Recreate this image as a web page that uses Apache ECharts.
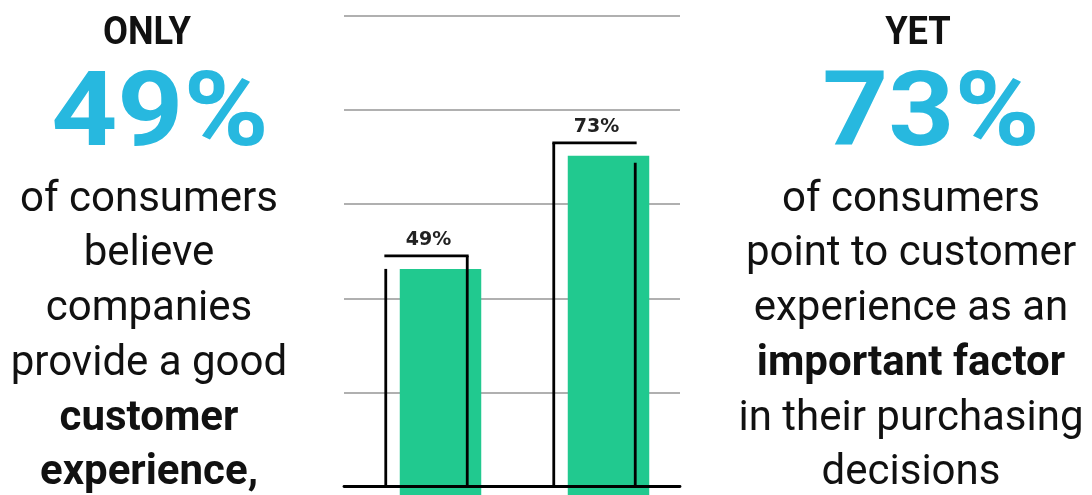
<!DOCTYPE html>
<html>
<head>
<meta charset="utf-8">
<script src="https://cdn.jsdelivr.net/npm/echarts@6/dist/echarts.min.js"></script>
<style>
  html, body { margin: 0; padding: 0; background: #ffffff; }
  #chart { width: 1092px; height: 495px; }
</style>
</head>
<body>
<div id="chart"></div>
<script>
// ---- data ----
const categories = ['Believe companies provide good CX', 'CX is an important purchasing factor'];
const values = [49, 73];
const valueLabels = ['49%', '73%'];
const yTicks = [0, 20, 40, 60, 80, 100];

const leftHead = 'ONLY';
const leftBig = '49%';
const leftLines = ['of consumers', 'believe', 'companies', 'provide a good', 'customer', 'experience,'];
const leftBold = [false, false, false, false, true, true];

const rightHead = 'YET';
const rightBig = '73%';
const rightLines = ['of consumers', 'point to customer', 'experience as an', 'important factor', 'in their purchasing', 'decisions'];
const rightBold = [false, false, false, true, false, false];

// ---- style ----
const GREEN = '#21c98f';
const BLUE = '#27b8df';
const INK = '#111111';
const GRID = '#b0b0b0';

const chart = echarts.init(document.getElementById('chart'), null, { renderer: 'canvas' });

function columnText(headX, bigX, cx, head, big, lines, bold) {
  const els = [];
  els.push({ type: 'text', x: headX, y: 34, scaleX: 0.93,
    style: { text: head, fill: INK, font: 'bold 39px Roboto', align: 'center', verticalAlign: 'middle' } });
  els.push({ type: 'text', x: bigX, y: 119, scaleX: 1.12,
    style: { text: big, fill: BLUE, font: 'bold 103px Roboto', align: 'center', verticalAlign: 'middle' } });
  const ys = [200, 254, 309, 364, 419, 473];
  lines.forEach((t, i) => {
    els.push({ type: 'text', x: cx, y: ys[i],
      style: { text: t, fill: INK, font: (bold[i] ? 'bold ' : '') + '42px Roboto', align: 'center', verticalAlign: 'middle' } });
  });
  return els;
}

const option = {
  backgroundColor: '#ffffff',
  animation: false,
  grid: { left: 344, right: 412, top: 15.7, bottom: 8.3, containLabel: false },
  xAxis: {
    type: 'category',
    data: categories,
    z: 10,
    axisLine: { show: true, lineStyle: { color: '#000000', width: 2.8 } },
    axisTick: { show: false },
    axisLabel: { show: false },
    splitLine: { show: false }
  },
  yAxis: {
    type: 'value',
    min: yTicks[0],
    max: yTicks[yTicks.length - 1],
    interval: yTicks[1] - yTicks[0],
    axisLine: { show: false },
    axisTick: { show: false },
    axisLabel: { show: false },
    splitLine: { show: true, lineStyle: { color: GRID, width: 2.2 } }
  },
  series: [{
    type: 'custom',
    clip: false,
    data: values.map((v, i) => [i, v]),
    renderItem: function (params, api) {
      const i = api.value(0);
      const v = api.value(1);
      const top = api.coord([i, v]);
      const base = api.coord([i, 0]);
      const bw = api.size([1, 0])[0] * 0.485;
      const left = top[0] - bw / 2 - 1.5;
      const right = left + bw;
      const dx = 14, dy = 13;
      const leftStart = params.dataIndex === 0 ? top[1] + dy : top[1];
      const rightStart = params.dataIndex === 1 ? top[1] + 20 : top[1];
      const ls = { stroke: '#000000', lineWidth: 2.8, fill: null };
      return {
        type: 'group',
        children: [
          { type: 'rect', shape: { x: left + dx, y: top[1] + dy, width: bw, height: base[1] - top[1] - dy + 12 }, style: { fill: GREEN }, z2: 1 },
          { type: 'line', shape: { x1: left, y1: leftStart, x2: left, y2: base[1] }, style: ls, z2: 2 },
          { type: 'line', shape: { x1: left - 1.4, y1: top[1], x2: right + 1.4, y2: top[1] }, style: ls, z2: 2 },
          { type: 'line', shape: { x1: right, y1: rightStart, x2: right, y2: base[1] }, style: ls, z2: 2 },
          { type: 'text', x: (left + right) / 2 + 2, y: top[1] - 16,
            style: { text: valueLabels[params.dataIndex], fill: '#222222', font: 'bold 19px "DejaVu Sans"', align: 'center', verticalAlign: 'middle' }, z2: 3 }
        ]
      };
    }
  }],
  graphic: [].concat(
    columnText(147, 160, 149, leftHead, leftBig, leftLines, leftBold),
    columnText(918, 931, 911, rightHead, rightBig, rightLines, rightBold)
  )
};

chart.setOption(option);
</script>
</body>
</html>
